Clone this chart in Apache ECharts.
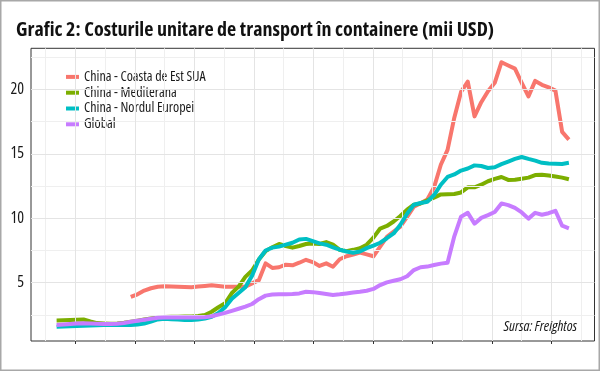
<!DOCTYPE html>
<html>
<head>
<meta charset="utf-8">
<script src="https://cdn.jsdelivr.net/npm/echarts@6/dist/echarts.min.js"></script>
<style>html,body{margin:0;padding:0;background:#fff}#c{width:600px;height:371px}</style>
</head>
<body>
<div id="c"></div>
<script>
// ---- data ----
const seriesNames = ['China - Coasta de Est SUA', 'China - Mediterana', 'China - Nordul Europei', 'Global'];
const seriesColors = ['#F8766D', '#7CAE00', '#00BFC4', '#C77CFF'];

const coastaEstSUA = [null,null,null,null,null,null,null,null,null,null,null,
  3.90,4.10,4.39,4.57,4.69,4.73,4.70,4.68,4.66,
  4.65,4.70,4.75,4.80,4.74,4.69,4.69,4.69,4.70,4.95,
  5.20,6.50,6.15,6.20,6.40,6.35,6.55,6.78,6.60,6.30,
  6.50,6.24,6.82,7.05,7.18,7.33,7.20,7.05,7.80,8.55,
  8.96,9.35,10.10,10.90,11.17,11.45,12.40,14.15,15.30,17.80,
  19.80,20.60,17.90,19.00,19.85,20.50,22.10,21.85,21.60,20.50,
  19.45,20.65,20.35,20.15,19.90,16.70,16.10];

const mediterana = [2.07,2.08,2.10,2.12,2.15,2.00,1.87,1.84,1.82,1.84,
  1.90,1.98,2.06,2.14,2.22,2.30,2.35,2.36,2.37,2.38,
  2.38,2.42,2.50,2.75,3.10,3.40,4.20,4.70,5.45,5.95,
  6.80,7.45,7.75,8.00,7.85,7.72,7.85,8.00,8.05,8.00,
  8.15,7.95,7.55,7.45,7.55,7.68,7.95,8.50,9.20,9.40,
  9.75,10.17,10.67,11.05,11.15,11.38,11.60,11.85,11.87,11.88,
  12.00,12.40,12.40,12.60,12.87,13.05,13.20,12.97,12.98,13.07,
  13.15,13.35,13.38,13.32,13.24,13.15,13.02];

const nordulEuropei = [1.58,1.60,1.62,1.64,1.66,1.68,1.71,1.72,1.72,1.72,
  1.72,1.72,1.76,1.83,1.98,2.15,2.20,2.17,2.14,2.11,
  2.10,2.15,2.22,2.35,2.65,3.10,3.75,4.20,4.65,5.55,
  6.80,7.50,7.72,7.80,7.95,8.10,8.35,8.40,8.22,8.05,
  7.95,7.75,7.56,7.42,7.33,7.42,7.68,7.88,8.10,8.45,
  8.82,9.50,10.35,11.05,11.18,11.28,11.80,12.60,13.20,13.40,
  13.70,13.86,14.10,14.05,13.90,13.95,14.20,14.40,14.60,14.75,
  14.60,14.47,14.30,14.24,14.22,14.21,14.30];

const globalIdx = [1.72,1.76,1.80,1.83,1.85,1.84,1.82,1.80,1.79,1.82,
  1.88,1.97,2.05,2.12,2.20,2.28,2.31,2.31,2.31,2.31,
  2.31,2.31,2.33,2.40,2.53,2.66,2.82,2.98,3.14,3.35,
  3.72,4.00,4.08,4.10,4.10,4.12,4.17,4.30,4.27,4.20,
  4.12,4.05,4.10,4.17,4.24,4.30,4.38,4.52,4.82,5.03,
  5.15,5.27,5.50,5.98,6.20,6.25,6.37,6.48,6.55,8.60,
  10.12,10.42,9.58,10.03,10.24,10.48,11.15,11.02,10.80,10.45,
  9.97,10.42,10.27,10.39,10.58,9.42,9.22];

// axis ticks (x positions in observation-index units; x labels are not shown in the reference)
const xTicks = [2.77, 11.60, 20.43, 29.26, 38.09, 46.92, 55.75, 64.58, 73.41];
const yTickLabels = [5, 10, 15, 20];
const yMinorGrid = [2.5, 7.5, 12.5, 17.5, 22.5];

const titleText = 'Grafic 2: Costurile unitare de transport în containere (mii USD)';
const sourceText = 'Sursa: Freightos';

// ---- chart ----
const FONT = "'Open Sans', 'DejaVu Sans Condensed', sans-serif";
const allSeries = [coastaEstSUA, mediterana, nordulEuropei, globalIdx];
const xMin = -3.8, xMax = 79.8, yMin = 0.48, yMax = 23.18;
const half = (xTicks[1] - xTicks[0]) / 2;
const xMinor = [xTicks[0] - half].concat(xTicks.map(v => v + half));

const gridLines = [];
xMinor.forEach(v => gridLines.push({xAxis: v, lineStyle: {color: '#efefef', width: 1}}));
yMinorGrid.forEach(v => gridLines.push({yAxis: v, lineStyle: {color: '#efefef', width: 1}}));
xTicks.forEach(v => gridLines.push({xAxis: v, lineStyle: {color: '#e4e4e4', width: 1}}));
yTickLabels.forEach(v => gridLines.push({yAxis: v, lineStyle: {color: '#e4e4e4', width: 1}}));

const chart = echarts.init(document.getElementById('c'), null, {renderer: 'canvas'});
const series = [{
  type: 'line', name: '_grid', data: [], silent: true, z: 1,
  markLine: {silent: true, symbol: ['none', 'none'], label: {show: false}, animation: false,
    lineStyle: {type: 'solid'}, data: gridLines}
}];
allSeries.forEach((arr, k) => {
  series.push({
    type: 'line', name: seriesNames[k], z: 3 + k,
    data: arr.map((v, i) => [i, v]),
    showSymbol: false, symbol: 'none', connectNulls: false,
    lineStyle: {color: seriesColors[k], width: 4, cap: 'butt', join: 'round'},
    itemStyle: {color: seriesColors[k]},
    emphasis: {disabled: true}
  });
});

chart.setOption({
  animation: false,
  backgroundColor: '#ffffff',
  title: {
    text: titleText, left: 11, top: 13,
    textStyle: {fontFamily: FONT, fontStyle: 'condensed', fontWeight: 'bold', fontSize: 20, color: '#111', lineHeight: 24}
  },
  legend: {
    data: seriesNames, orient: 'vertical', left: 66, top: 69, padding: 0,
    icon: 'rect', itemWidth: 13, itemHeight: 4, itemGap: 0,
    textStyle: {fontFamily: FONT, fontStyle: 'condensed', fontSize: 14, color: '#1a1a1a', lineHeight: 15.8},
    selectedMode: false
  },
  grid: {left: 31, right: 5.5, top: 48.3, bottom: 30, show: true, borderColor: '#333', borderWidth: 1, backgroundColor: '#fff'},
  xAxis: {
    type: 'value', min: xMin, max: xMax,
    axisLine: {show: false},
    axisTick: {show: true, length: 3, customValues: xTicks, lineStyle: {color: '#333', width: 1}},
    axisLabel: {show: false},
    splitLine: {show: false}
  },
  yAxis: {
    type: 'value', min: yMin, max: yMax,
    axisLine: {show: false},
    axisTick: {show: true, length: 3, customValues: yTickLabels, lineStyle: {color: '#333', width: 1}},
    axisLabel: {show: true, customValues: yTickLabels, margin: 7, fontFamily: FONT, fontStyle: 'condensed', fontSize: 16, color: '#1a1a1a'},
    splitLine: {show: false}
  },
  graphic: [
    {type: 'rect', z: 100, silent: true, shape: {x: 0.75, y: 0.75, width: 598.5, height: 369.5},
      style: {fill: 'none', stroke: '#a8a8a8', lineWidth: 1.5}},
    {type: 'text', right: 23, top: 319, z: 100, silent: true,
      style: {text: sourceText, font: "italic condensed 14.5px " + FONT, fill: '#1a1a1a'}}
  ],
  series: series
});
</script>
</body>
</html>
